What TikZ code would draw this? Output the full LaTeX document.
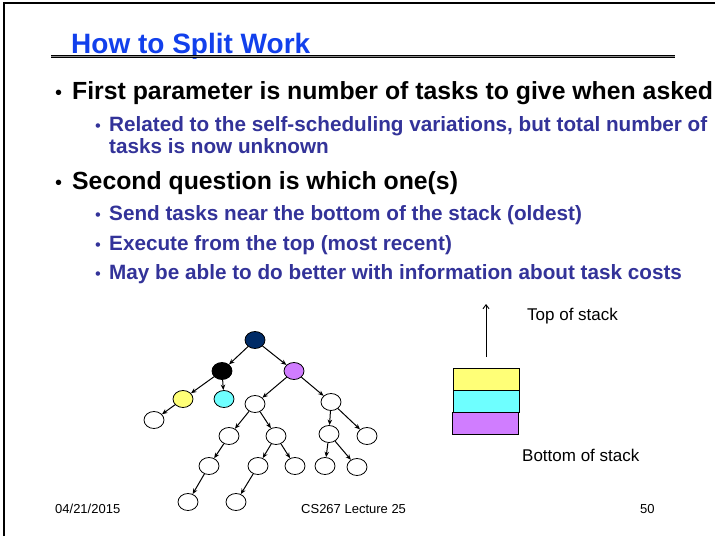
\documentclass[tikz,border=0pt]{standalone}
\usepackage{fontspec}
\setmainfont{Liberation Sans}
\usetikzlibrary{arrows.meta,shapes.geometric}

\definecolor{titleblue}{RGB}{18,64,236}
\definecolor{subblue}{RGB}{51,51,153}
\definecolor{rootnavy}{RGB}{0,43,102}
\definecolor{lilac}{RGB}{208,125,255}
\definecolor{paleyellow}{RGB}{255,255,119}
\definecolor{palecyan}{RGB}{110,255,255}

\begin{document}
\begin{tikzpicture}[x=1pt,y=-1pt,
  mainitem/.style={anchor=base west, inner sep=0pt,
    font=\fontsize{24.8}{28}\selectfont\bfseries},
  subitem/.style={anchor=base west, inner sep=0pt, text=subblue,
    font=\fontsize{20.7}{24}\selectfont\bfseries},
  mainbul/.style={anchor=base west, inner sep=0pt, font=\fontsize{20}{24}\selectfont},
  subbul/.style={anchor=base west, inner sep=0pt, text=subblue, font=\fontsize{16.5}{20}\selectfont},
  plain/.style={anchor=base west, inner sep=0pt, font=\fontsize{17}{20}\selectfont},
  foot/.style={anchor=base west, inner sep=0pt, font=\fontsize{13}{15}\selectfont},
  task/.style={ellipse, draw, line width=0.8pt, fill=white,
    minimum width=20pt, minimum height=17pt, inner sep=0pt},
  edge/.style={line width=1pt, -{Stealth[length=5.5pt,width=4.5pt]}},
  slot/.style={rectangle, draw, line width=1pt, minimum width=66pt,
    minimum height=22pt, inner sep=0pt}]

% page area and slide frame (top and left edges)
\useasboundingbox (0,0) rectangle (715,536);
\fill[white] (0,0) rectangle (715,536);
\draw[line width=2pt] (4,536) -- (4,3) -- (715,3);

% title and rule
\node[anchor=base west, inner sep=0pt, text=titleblue,
  font=\fontsize{28}{32}\selectfont\bfseries] (title) at (71,53) {How to Split Work};
\coordinate (ruleL) at (51,56.6);
\coordinate (ruleR) at (675,56.6);
\draw[line width=3.4pt, black!45] (ruleL) -- (ruleR);
\draw[line width=0.9pt] ([yshift=-1.2pt]ruleL) -- ([yshift=-1.2pt]ruleR);
\draw[line width=0.9pt] ([yshift=1.2pt]ruleL) -- ([yshift=1.2pt]ruleR);

% bullet list
\node[mainbul] (b1) at (55,99) {•};
\node[mainitem] (t1) at (72,99) {First parameter is number of tasks to give when asked};
\node[subbul] (b2) at (95,131) {•};
\node[subitem] (t2) at (109,131) {Related to the self-scheduling variations, but total number of};
\node[subitem] (t3) at (109,153) {tasks is now unknown};
\node[mainbul] (b4) at (55,189) {•};
\node[mainitem] (t4) at (72,189) {Second question is which one(s)};
\node[subbul] (b5) at (95,220) {•};
\node[subitem] (t5) at (109,220) {Send tasks near the bottom of the stack (oldest)};
\node[subbul] (b6) at (95,250) {•};
\node[subitem] (t6) at (109,250) {Execute from the top (most recent)};
\node[subbul] (b7) at (95,279) {•};
\node[subitem] (t7) at (109,279) {May be able to do better with information about task costs};

% task tree
\node[task, fill=rootnavy] (r)   at (255,340) {};
\node[task, fill=black]    (a)   at (222,371) {};
\node[task, fill=lilac]    (p)   at (294,371) {};
\node[task, fill=paleyellow] (y) at (183,399) {};
\node[task, fill=palecyan] (c)   at (224,399) {};
\node[task] (yl)  at (154,420) {};
\node[task] (p1)  at (255,404) {};
\node[task] (p2)  at (331,402) {};
\node[task] (p11) at (229,436) {};
\node[task] (p12) at (276,436) {};
\node[task] (p21) at (329,434) {};
\node[task] (p22) at (367,436) {};
\node[task] (p111) at (209,466) {};
\node[task] (p121) at (258,466) {};
\node[task] (p122) at (295,466) {};
\node[task] (p211) at (325,466) {};
\node[task] (p212) at (357,467) {};
\node[task] (p1111) at (188,502) {};
\node[task] (p1211) at (236,502) {};

\draw[edge] (r) -- (a);
\draw[edge] (r) -- (p);
\draw[edge] (a) -- (y);
\draw[edge] (a) -- (c);
\draw[edge] (y) -- (yl);
\draw[edge] (p) -- (p1);
\draw[edge] (p) -- (p2);
\draw[edge] (p1) -- (p11);
\draw[edge] (p1) -- (p12);
\draw[edge] (p2) -- (p21);
\draw[edge] (p2) -- (p22);
\draw[edge] (p11) -- (p111);
\draw[edge] (p12) -- (p121);
\draw[edge] (p12) -- (p122);
\draw[edge] (p21) -- (p211);
\draw[edge] (p21) -- (p212);
\draw[edge] (p111) -- (p1111);
\draw[edge] (p121) -- (p1211);

% stack
\node[slot, fill=paleyellow] (sy) at (486,379) {};
\node[slot, fill=palecyan]   (sc) at (486,401) {};
\node[slot, fill=lilac]      (sp) at (485.5,423.5) {};
\coordinate (arrowFoot) at (486,357);
\coordinate (arrowHead) at (486,304);
\draw[line width=0.9pt, -{Straight Barb[length=4pt,width=6pt]}] (arrowFoot) -- (arrowHead);
\node[plain] (toplbl) at (527,320) {Top of stack};
\node[plain] (botlbl) at (522,461) {Bottom of stack};

% footer
\node[foot] (date) at (55,513) {04/21/2015};
\node[foot] (course) at (301,513) {CS267 Lecture 25};
\node[foot] (page) at (640,513) {50};
\end{tikzpicture}
\end{document}
